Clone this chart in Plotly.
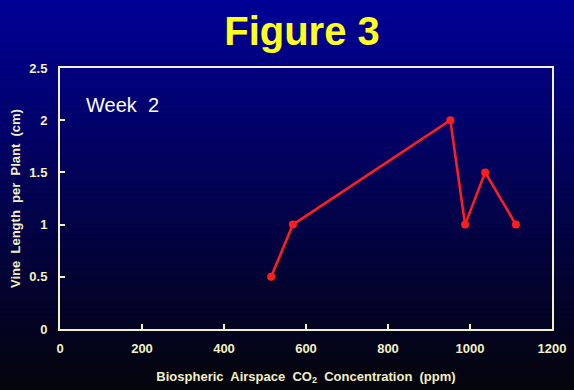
import plotly.graph_objects as go

# Data
co2_ppm = [515, 568, 952, 988, 1037, 1112]
vine_length_cm = [0.5, 1.0, 2.0, 1.0, 1.5, 1.0]

x_ticks = [0, 200, 400, 600, 800, 1000, 1200]
y_ticks = [0, 0.5, 1, 1.5, 2, 2.5]

title_text = "Figure 3"
week_label = "Week  2"
x_title = "Biospheric  Airspace  CO<sub>2</sub>  Concentration  (ppm)"
y_title = "Vine  Length  per  Plant  (cm)"

W, H = 574, 390
L, R, T, B = 60, 22, 68, 61
PW, PH = W - L - R, H - T - B
cream = "#f2f0c4"
font_family = "Liberation Sans, Arial, sans-serif"

fig = go.Figure()
fig.add_trace(go.Scatter(
    x=co2_ppm, y=vine_length_cm, mode="lines+markers",
    line=dict(color="#ff1e1e", width=2.6),
    marker=dict(color="#ff1e1e", size=8),
    showlegend=False, cliponaxis=False,
))

# Vertical gradient background (blue at top to near black at bottom)
n = 78
top = (0, 0, 150)
bot = (4, 4, 12)
shapes = []
for i in range(n):
    t = i / (n - 1)
    c = tuple(int(round(top[k] + (bot[k] - top[k]) * t)) for k in range(3))
    py0 = i * H / n
    py1 = (i + 1) * H / n
    shapes.append(dict(
        type="rect", xref="paper", yref="paper", layer="below",
        x0=-L / PW - 0.05, x1=1 + R / PW + 0.05,
        y0=(H - B - py0) / PH + 0.003,
        y1=(H - B - py1) / PH - 0.003,
        fillcolor="rgb(%d,%d,%d)" % c, line=dict(width=0),
    ))

fig.update_layout(
    width=W, height=H,
    margin=dict(l=L, r=R, t=T, b=B),
    paper_bgcolor="rgb(4,4,12)",
    plot_bgcolor="rgba(0,0,0,0)",
    shapes=shapes,
    font=dict(family=font_family, color=cream),
    title=dict(
        text="<b>%s</b>" % title_text,
        font=dict(size=40, color="#ffff1a", family=font_family),
        x=302 / W, xanchor="center", xref="container",
        y=1 - 31 / H, yanchor="middle", yref="container",
        automargin=False,
    ),
    annotations=[
        dict(text=week_label, x=(84 - L) / PW, xref="paper",
             y=(H - B - 105) / PH, yref="paper",
             showarrow=False, xanchor="left", yanchor="middle",
             font=dict(size=20, color="white", family=font_family)),
    ],
)

fig.update_xaxes(
    range=[0, 1200], tickvals=x_ticks, ticktext=["<b>%d</b>" % v for v in x_ticks],
    ticks="inside", ticklen=5, tickwidth=1.5, tickcolor=cream,
    showline=True, linecolor=cream, linewidth=2, mirror=True,
    showgrid=False, zeroline=False, automargin=False,
    tickfont=dict(size=13, color=cream),
    ticklabelstandoff=6,
    title=dict(text="<b>%s</b>" % x_title, font=dict(size=13, color=cream), standoff=17),
)
fig.update_yaxes(
    range=[0, 2.5], tickvals=y_ticks, ticktext=["<b>%g</b>" % v for v in y_ticks],
    ticks="inside", ticklen=5, tickwidth=1.5, tickcolor=cream,
    showline=True, linecolor=cream, linewidth=2, mirror=True,
    showgrid=False, zeroline=False, automargin=False,
    tickfont=dict(size=13, color=cream),
    ticklabelstandoff=8,
    title=dict(text="<b>%s</b>" % y_title, font=dict(size=13, color=cream), standoff=6),
)

fig.write_html(
    "out.html",
    config={"displayModeBar": False},
    post_script="document.body.style.margin='0';document.body.style.overflow='hidden';",
)
